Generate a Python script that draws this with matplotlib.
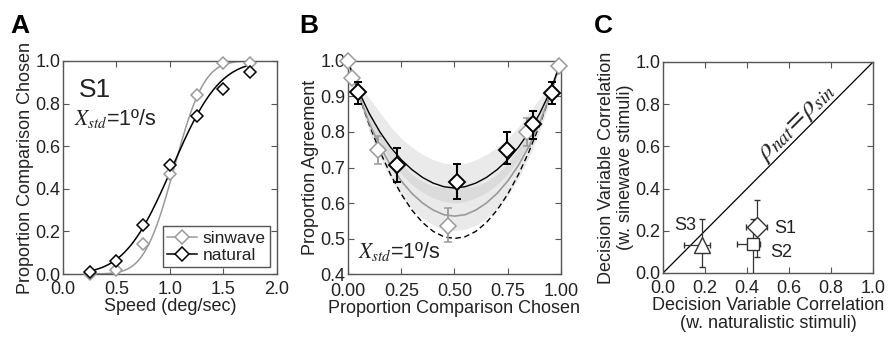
import math
import numpy as np
import matplotlib
matplotlib.use("Agg")
import matplotlib.pyplot as plt
from matplotlib.ticker import FixedLocator

plt.rcParams['font.family'] = ['Liberation Sans', 'DejaVu Sans']
plt.rcParams['mathtext.fontset'] = 'stix'

# ---------------- Panel A data ----------------
speed = [0.25, 0.5, 0.75, 1.0, 1.25, 1.5, 1.75]
sin_prop = [0.00, 0.02, 0.14, 0.47, 0.84, 0.99, 0.99]
nat_prop = [0.01, 0.06, 0.23, 0.51, 0.74, 0.87, 0.95]
# cumulative-Gaussian fit parameters (mean, sd)
sin_fit = (1.04, 0.22)
nat_fit = (1.02, 0.35)
a_xticks = [0.0, 0.5, 1.0, 1.5, 2.0]
a_yticks = [0.0, 0.2, 0.4, 0.6, 0.8, 1.0]

# ---------------- Panel B data ----------------
curve_p = [0.00, 0.05, 0.10, 0.15, 0.20, 0.25, 0.30, 0.35, 0.40, 0.45, 0.50,
           0.55, 0.60, 0.65, 0.70, 0.75, 0.80, 0.85, 0.90, 0.95, 1.00]
curve_nat = [1.000, 0.915, 0.852, 0.800, 0.757, 0.722, 0.694, 0.672, 0.656, 0.646, 0.642,
             0.646, 0.656, 0.672, 0.694, 0.722, 0.757, 0.800, 0.852, 0.915, 1.000]
curve_sin = [1.000, 0.905, 0.825, 0.760, 0.706, 0.662, 0.627, 0.600, 0.580, 0.567, 0.563,
             0.567, 0.580, 0.600, 0.627, 0.662, 0.706, 0.760, 0.825, 0.905, 1.000]
curve_min = [1.000, 0.905, 0.820, 0.745, 0.680, 0.625, 0.580, 0.545, 0.520, 0.505, 0.500,
             0.505, 0.520, 0.545, 0.580, 0.625, 0.680, 0.745, 0.820, 0.905, 1.000]
band_p = [0.05, 0.10, 0.15, 0.20, 0.25, 0.30, 0.35, 0.40, 0.45, 0.50,
          0.55, 0.60, 0.65, 0.70, 0.75, 0.80, 0.85, 0.90, 0.95]
band_nat_hi = [0.935, 0.895, 0.855, 0.815, 0.782, 0.757, 0.737, 0.722, 0.712, 0.710,
               0.712, 0.722, 0.737, 0.757, 0.782, 0.815, 0.855, 0.895, 0.935]
band_nat_lo = [0.895, 0.825, 0.768, 0.720, 0.682, 0.652, 0.630, 0.614, 0.604, 0.600,
               0.604, 0.614, 0.630, 0.652, 0.682, 0.720, 0.768, 0.825, 0.895]
band_sin_hi = [0.920, 0.855, 0.800, 0.752, 0.712, 0.681, 0.660, 0.648, 0.645, 0.645,
               0.645, 0.648, 0.660, 0.681, 0.712, 0.752, 0.800, 0.855, 0.920]
band_sin_lo = [0.890, 0.800, 0.728, 0.668, 0.620, 0.583, 0.557, 0.538, 0.526, 0.522,
               0.526, 0.538, 0.557, 0.583, 0.620, 0.668, 0.728, 0.800, 0.890]

sin_p = [0.0, 0.017, 0.14, 0.47, 0.84, 0.99]
sin_agree = [1.0, 0.953, 0.75, 0.536, 0.80, 0.985]
sin_err_lo = [0.0, 0.0, 0.04, 0.045, 0.04, 0.0]
sin_err_hi = [0.0, 0.0, 0.04, 0.05, 0.04, 0.0]

nat_p = [0.045, 0.228, 0.51, 0.745, 0.87, 0.956]
nat_agree = [0.913, 0.707, 0.658, 0.75, 0.822, 0.909]
nat_err_lo = [0.033, 0.047, 0.048, 0.04, 0.042, 0.029]
nat_err_hi = [0.027, 0.048, 0.052, 0.05, 0.038, 0.031]
nat_xerr = [0.014, 0.014, 0.014, 0.014, 0.014, 0.014]

b_xticks = [0.0, 0.25, 0.5, 0.75, 1.0]
b_yticks = [0.4, 0.5, 0.6, 0.7, 0.8, 0.9, 1.0]

# ---------------- Panel C data ----------------
subjects = ['S1', 'S2', 'S3']
subj_markers = ['D', 's', '^']
dvc_nat = [0.446, 0.430, 0.184]
dvc_sin = [0.219, 0.137, 0.133]
dvc_nat_lo = [0.051, 0.079, 0.084]
dvc_nat_hi = [0.051, 0.032, 0.040]
dvc_sin_lo = [0.145, 0.150, 0.106]
dvc_sin_hi = [0.127, 0.120, 0.121]
c_ticks = [0.0, 0.2, 0.4, 0.6, 0.8, 1.0]

# ---------------- styling ----------------
TXT = '#222222'
SPINE = '#555555'
GRAY = '#9a9a9a'
FS = 13


def style_axes(ax, xpad=5):
    for s in ax.spines.values():
        s.set_color(SPINE)
        s.set_linewidth(1.0)
    ax.tick_params(direction='in', top=True, right=True, length=4, width=0.8,
                   color=SPINE, labelcolor=TXT, labelsize=FS)
    ax.tick_params(axis='x', pad=xpad)
    ax.tick_params(axis='y', pad=2)


def norm_cdf(x, mu, sd):
    return 0.5 * (1.0 + math.erf((x - mu) / (sd * math.sqrt(2.0))))


fig = plt.figure(figsize=(8.96, 3.4), dpi=100)

# ======== Panel A ========
axA = fig.add_axes([0.0703, 0.1941, 0.2388, 0.6265])
xs = np.linspace(min(speed), max(speed), 200)
axA.plot(xs, [norm_cdf(v, *sin_fit) for v in xs], color=GRAY, lw=1.1, zorder=2)
axA.plot(xs, [norm_cdf(v, *nat_fit) for v in xs], color='black', lw=1.1, zorder=2)
axA.plot(speed, sin_prop, ls='none', marker='D', ms=5.8, mfc='white', mec=GRAY,
         mew=1.1, clip_on=False, zorder=3)
axA.plot(speed, nat_prop, ls='none', marker='D', ms=5.8, mfc='white', mec='black',
         mew=1.1, clip_on=False, zorder=4)
# legend proxies
h1, = axA.plot([], [], color=GRAY, lw=1.1, marker='D', ms=7, mfc='white', mec=GRAY, mew=1.1)
h2, = axA.plot([], [], color='black', lw=1.1, marker='D', ms=7, mfc='white', mec='black', mew=1.1)
leg = axA.legend([h1, h2], ['sinwave', 'natural'], loc='lower right', fontsize=12.5,
                 frameon=True, fancybox=False, edgecolor=SPINE, framealpha=1,
                 handlelength=1.7, handletextpad=0.35, borderpad=0.25,
                 labelspacing=0.1, borderaxespad=0.4)
leg.get_frame().set_linewidth(1.0)
for t in leg.get_texts():
    t.set_color(TXT)
axA.set_xlim(0, 2)
axA.set_ylim(0, 1)
axA.xaxis.set_major_locator(FixedLocator(a_xticks))
axA.yaxis.set_major_locator(FixedLocator(a_yticks))
axA.set_xticklabels([f'{v:.1f}' for v in a_xticks])
axA.set_yticklabels([f'{v:.1f}' for v in a_yticks])
style_axes(axA)
axA.set_xlabel('Speed (deg/sec)', fontsize=FS, color=TXT, labelpad=0)
axA.set_ylabel('Proportion Comparison Chosen', fontsize=FS, color=TXT, labelpad=1)
axA.text(0.075, 0.83, 'S1', transform=axA.transAxes, fontsize=19, color=TXT,
         ha='left', va='baseline')
axA.text(0.05, 0.70, r'$X_{std}$' + '=1º/s', transform=axA.transAxes, fontsize=15.5,
         color=TXT, ha='left', va='baseline')

# ======== Panel B ========
axB = fig.add_axes([0.3884, 0.1941, 0.2377, 0.6265])
axB.fill_between(band_p, band_sin_lo, band_sin_hi, color='#bbbbbb', alpha=0.3,
                 lw=0, zorder=1)
axB.fill_between(band_p, band_nat_lo, band_nat_hi, color='#bbbbbb', alpha=0.3,
                 lw=0, zorder=1)
axB.plot(curve_p, curve_min, color='black', lw=1.0, ls=(0, (4, 2.5)), zorder=2)
axB.plot(curve_p, curve_sin, color=GRAY, lw=1.2, zorder=2)
axB.plot(curve_p, curve_nat, color='black', lw=1.0, zorder=2)
axB.errorbar(sin_p, sin_agree, yerr=[sin_err_lo, sin_err_hi], fmt='D', ms=8,
             mfc='white', mec=GRAY, mew=1.1, ecolor=GRAY, elinewidth=1.3,
             capsize=3, capthick=1.3, clip_on=False, zorder=3)
axB.errorbar(nat_p, nat_agree, yerr=[nat_err_lo, nat_err_hi], xerr=nat_xerr,
             fmt='D', ms=8, mfc='white', mec='black', mew=1.4, ecolor='black',
             elinewidth=1.5, capsize=3, capthick=1.8, clip_on=False, zorder=4)
axB.set_xlim(0, 1)
axB.set_ylim(0.4, 1.0)
axB.xaxis.set_major_locator(FixedLocator(b_xticks))
axB.yaxis.set_major_locator(FixedLocator(b_yticks))
axB.set_xticklabels([f'{v:.2f}' for v in b_xticks])
axB.set_yticklabels([f'{v:.1f}' for v in b_yticks])
style_axes(axB, xpad=6.5)
axB.set_xlabel('Proportion Comparison Chosen', fontsize=FS, color=TXT, labelpad=0)
axB.set_ylabel('Proportion Agreement', fontsize=FS, color=TXT, labelpad=1)
axB.text(0.047, 0.075, r'$X_{std}$' + '=1º/s', transform=axB.transAxes, fontsize=15.5,
         color=TXT, ha='left', va='baseline')

# ======== Panel C ========
axC = fig.add_axes([0.7400, 0.1971, 0.2344, 0.6206])
axC.plot([0, 1], [0, 1], color='black', lw=0.9, zorder=1)
for i in range(len(subjects)):
    axC.errorbar([dvc_nat[i]], [dvc_sin[i]],
                 xerr=[[dvc_nat_lo[i]], [dvc_nat_hi[i]]],
                 yerr=[[dvc_sin_lo[i]], [dvc_sin_hi[i]]],
                 fmt=subj_markers[i], ms={'D': 10, 's': 9, '^': 12}[subj_markers[i]],
                 mfc='white', mec='#333333', mew=1.0, ecolor='#333333',
                 elinewidth=0.9, capsize=2.5, capthick=0.9, zorder=3)
axC.text(dvc_nat[2] - 0.025, dvc_sin[2] + 0.07, subjects[2], fontsize=FS, color=TXT,
         ha='right', va='baseline')
axC.text(dvc_nat[0] + 0.085, dvc_sin[0] - 0.01, subjects[0], fontsize=FS, color=TXT,
         ha='left', va='center')
axC.text(dvc_nat[1] + 0.08, dvc_sin[1] - 0.04, subjects[1], fontsize=FS, color=TXT,
         ha='left', va='center')
axC.text(0.635, 0.715, r'$\rho_{nat}\!=\!\rho_{sin}$', fontsize=20, color=TXT,
         rotation=45, rotation_mode='anchor', ha='center', va='center')
axC.set_xlim(0, 1)
axC.set_ylim(0, 1)
axC.xaxis.set_major_locator(FixedLocator(c_ticks))
axC.yaxis.set_major_locator(FixedLocator(c_ticks))
axC.set_xticklabels([f'{v:.1f}' for v in c_ticks])
axC.set_yticklabels([f'{v:.1f}' for v in c_ticks])
style_axes(axC)
axC.set_xlabel('Decision Variable Correlation\n(w. naturalistic stimuli)', fontsize=FS,
               color=TXT, labelpad=0, linespacing=1.1)
axC.set_ylabel('Decision Variable Correlation\n(w. sinewave stimuli)', fontsize=FS,
               color=TXT, labelpad=1, linespacing=1.1)

# panel letters
for x, lab in [(0.012, 'A'), (0.334, 'B'), (0.663, 'C')]:
    fig.text(x, 0.903, lab, fontsize=19, fontweight='bold', color='black',
             ha='left', va='baseline')

fig.savefig('out.png', dpi=100, facecolor='white')
